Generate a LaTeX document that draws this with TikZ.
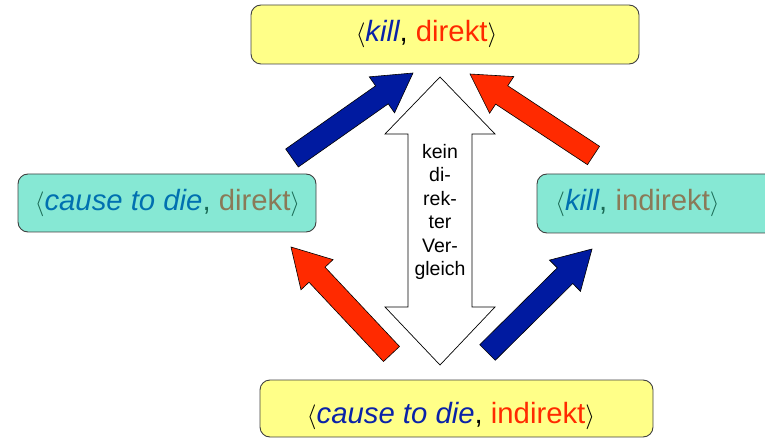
\documentclass[tikz,border=0pt]{standalone}
\usepackage{fontspec}
\setmainfont{Liberation Sans}
\usetikzlibrary{calc}
\definecolor{boxyellow}{HTML}{FFFF88}
\definecolor{boxteal}{HTML}{86E8D4}
\definecolor{arrblue}{HTML}{001AA0}
\definecolor{arrred}{HTML}{FF2A00}
\definecolor{txtblue}{HTML}{0A22A8}
\definecolor{txtred}{HTML}{FF2A00}
\definecolor{tealblue}{HTML}{0070B0}
\definecolor{tealbrown}{HTML}{8A7A58}
\definecolor{tealbracket}{HTML}{1A6A55}
\newcommand{\blockarr}[3]{%
  \path ($(#3)!38pt!(#2)$) coordinate (hb);
  \filldraw[fill=#1, draw=black, line width=0.6pt, line join=miter]
    ($(#2)!11pt!90:(#3)$) -- ($(hb)!11pt!90:(#3)$) -- ($(hb)!22pt!90:(#3)$)
    -- (#3) -- ($(hb)!22pt!-90:(#3)$) -- ($(hb)!11pt!-90:(#3)$)
    -- ($(#2)!11pt!-90:(#3)$) -- cycle;
}
\tikzset{
  box/.style={draw=black!75, line width=0.9pt, rounded corners=10pt, inner sep=0pt},
  ybox/.style={box, fill=boxyellow},
  tbox/.style={box, fill=boxteal},
  lbl/.style={anchor=base, inner sep=0pt, font=\fontsize{29.3}{35}\selectfont},
}
\begin{document}
\begin{tikzpicture}[x=1pt,y=-1pt]
\useasboundingbox (0,0) rectangle (765,438);
% boxes
\node[ybox, minimum width=388pt, minimum height=59pt] (top) at (445,34.5) {};
\node[tbox, minimum width=298pt, minimum height=58pt] (left) at (167,203) {};
\node[tbox, minimum width=250pt, minimum height=59pt] (right) at (662,203.5) {};
\node[ybox, minimum width=393pt, minimum height=57pt] (bottom) at (456.5,408.5) {};
% texts
\node[lbl] (toptext) at (426.5,42) {$\langle$\textcolor{txtblue}{\itshape kill}, \textcolor{txtred}{direkt}$\rangle$};
\node[lbl, text=tealbracket] (lefttext) at (167.5,211) {$\langle$\textcolor{tealblue}{\itshape cause to die}, \textcolor{tealbrown}{direkt}$\rangle$};
\node[lbl, text=tealbracket] (righttext) at (637.5,211) {$\langle$\textcolor{tealblue}{\itshape kill}, \textcolor{tealbrown}{indirekt}$\rangle$};
\node[lbl] (bottomtext) at (451,423) {$\langle$\textcolor{txtblue}{\itshape cause to die}, \textcolor{txtred}{indirekt}$\rangle$};
% double arrow
\filldraw[fill=white, draw=black, line width=0.7pt, line join=miter]
  (440,77) -- (495,134) -- (472,134) -- (472,307) -- (495,307) -- (440,365)
  -- (385,307) -- (408,307) -- (408,134) -- (385,134) -- cycle;
\node[align=center, inner sep=0pt, font=\fontsize{19.5}{23.5}\selectfont] (cmp) at (440,212) {kein\\di-\\rek-\\ter\\Ver-\\gleich};
% block arrows
\coordinate (a1t) at (292,158); \coordinate (a1h) at (413,73);
\coordinate (a2t) at (593.5,155.5); \coordinate (a2h) at (470,74);
\coordinate (a3t) at (391.5,354); \coordinate (a3h) at (291,247);
\coordinate (a4t) at (487.5,352.5); \coordinate (a4h) at (592,249);
\blockarr{arrblue}{a1t}{a1h}
\blockarr{arrred}{a2t}{a2h}
\blockarr{arrred}{a3t}{a3h}
\blockarr{arrblue}{a4t}{a4h}
\end{tikzpicture}
\end{document}
